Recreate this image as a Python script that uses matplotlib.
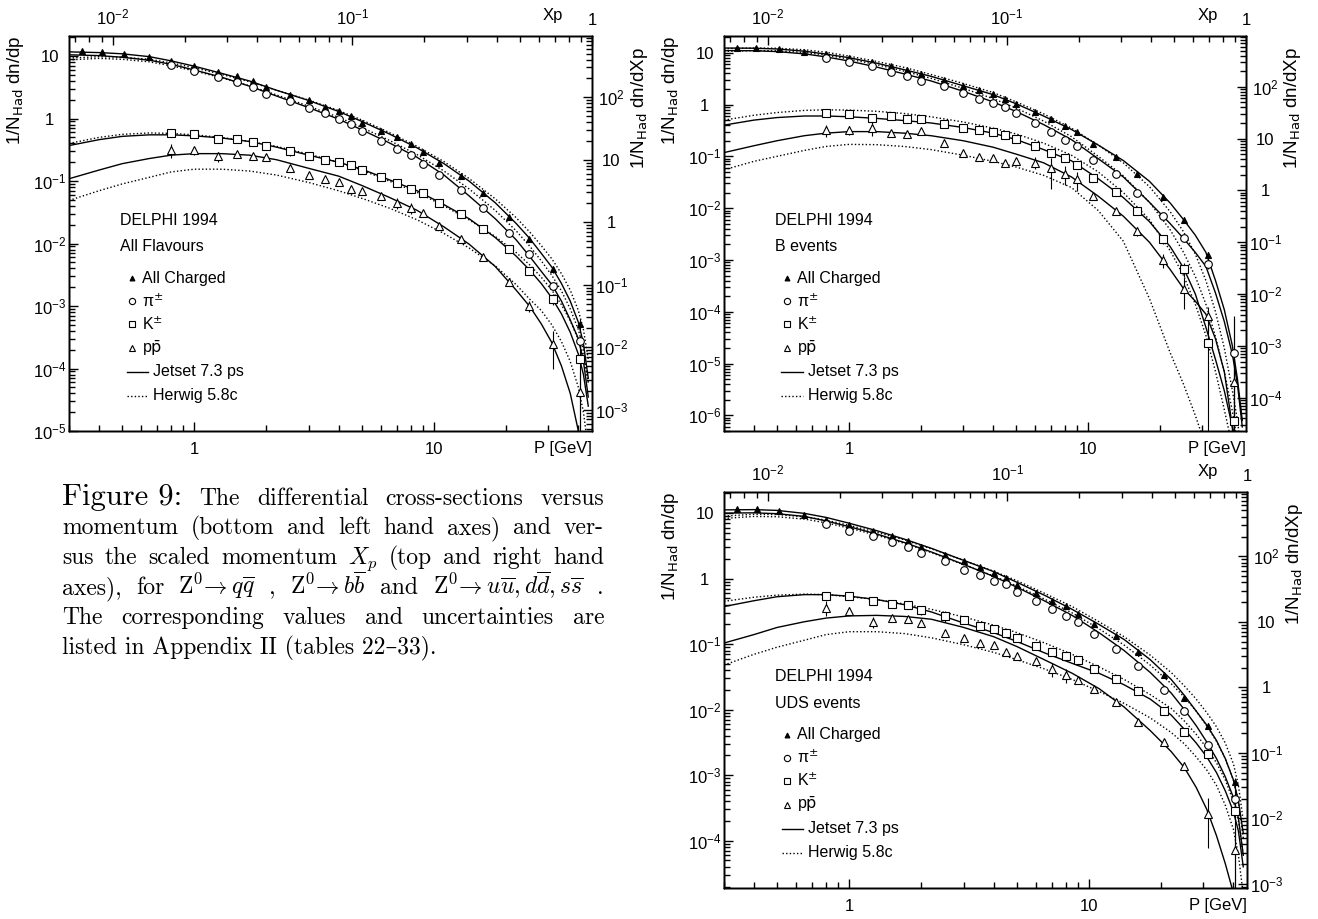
import numpy as np
import matplotlib
matplotlib.use('Agg')
import matplotlib.pyplot as plt
from matplotlib.ticker import FixedLocator, LogLocator, FuncFormatter, NullFormatter

plt.rcParams['font.family'] = ['Liberation Sans', 'DejaVu Sans']
plt.rcParams['mathtext.fontset'] = 'dejavusans'
plt.rcParams['axes.linewidth'] = 1.0

E_BEAM = 45.6  # Xp = p / E_beam

# momentum bins (GeV)
p_ch = [0.34, 0.41, 0.51, 0.65, 0.8, 1.0, 1.25, 1.5, 1.75, 2.0, 2.5, 3.0, 3.5, 4.0, 4.5,
        5.0, 6.0, 7.0, 8.0, 9.0, 10.5, 13.0, 16.0, 20.5, 25.0, 31.5, 40.5]
p_id = [0.8, 1.0, 1.25, 1.5, 1.75, 2.0, 2.5, 3.0, 3.5, 4.0, 4.5, 5.0, 6.0, 7.0, 8.0, 9.0,
        10.5, 13.0, 16.0, 20.5, 25.0, 31.5, 40.5]
p_mc = [0.3, 0.4, 0.5, 0.65, 0.8, 1.0, 1.3, 1.7, 2.2, 3.0, 4.0, 5.0, 6.5, 8.5, 11, 14, 18,
        22, 25, 28, 31, 34, 37, 40, 42, 44]

# ---- All flavours ----
all_ch = [12.0, 11.6, 11.0, 9.75, 8.3, 6.9, 5.5, 4.76, 3.95, 3.2, 2.4, 1.95, 1.56, 1.33, 1.1,
          0.86, 0.64, 0.50, 0.39, 0.29, 0.195, 0.12, 0.064, 0.027, 0.012, 3.9e-3, 5.2e-4]
all_pi = [7.3, 5.7, 4.6, 3.9, 3.2, 2.5, 1.9, 1.5, 1.22, 1.0, 0.82, 0.63, 0.44, 0.33, 0.26,
          0.19, 0.123, 0.072, 0.037, 0.0147, 6.8e-3, 2.1e-3, 2.8e-4]
all_k = [0.58, 0.57, 0.48, 0.47, 0.42, 0.37, 0.30, 0.25, 0.22, 0.20, 0.18, 0.15, 0.116, 0.093,
         0.075, 0.064, 0.044, 0.030, 0.0168, 8.2e-3, 3.6e-3, 1.3e-3, 1.4e-4]
all_p = [0.31, 0.31, 0.25, 0.27, 0.25, 0.24, 0.16, 0.127, 0.107, 0.095, 0.075, 0.069, 0.057,
         0.045, 0.037, 0.031, 0.019, 0.012, 6.1e-3, 2.4e-3, 1.0e-3, 2.5e-4, 4.2e-5]
# relative errors
all_ch_err = [0.03, 0.03, 0.03, 0.03, 0.03, 0.03, 0.03, 0.03, 0.03, 0.03, 0.03, 0.03, 0.03, 0.03,
              0.03, 0.03, 0.03, 0.03, 0.03, 0.03, 0.04, 0.04, 0.05, 0.06, 0.08, 0.12, 0.2]
all_pi_err = [0.05, 0.05, 0.05, 0.05, 0.05, 0.05, 0.05, 0.05, 0.05, 0.05, 0.05, 0.05, 0.05, 0.05,
              0.05, 0.05, 0.05, 0.06, 0.07, 0.08, 0.1, 0.12, 0.2]
all_k_err = [0.1, 0.08, 0.08, 0.08, 0.08, 0.1, 0.15, 0.08, 0.08, 0.08, 0.08, 0.08, 0.08, 0.08,
             0.08, 0.08, 0.08, 0.08, 0.1, 0.1, 0.12, 0.2, 1.4]
all_p_err = [0.25, 0.15, 0.18, 0.1, 0.1, 0.1, 0.1, 0.1, 0.1, 0.1, 0.1, 0.1, 0.1, 0.2, 0.2, 0.12,
             0.1, 0.1, 0.1, 0.12, 0.2, 0.6, 1.1]
all_js_ch = [11.7, 11.4, 10.9, 9.8, 8.4, 6.9, 5.3, 4.0, 2.85, 1.95, 1.3, 0.9, 0.57, 0.34, 0.19,
             0.1, 0.045, 0.021, 0.0122, 7.0e-3, 4.2e-3, 2.3e-3, 1.2e-3, 5.5e-4, 2.5e-4, 7e-5]
all_js_pi = [10.5, 10.2, 9.6, 8.6, 7.4, 6.0, 4.6, 3.3, 2.3, 1.5, 0.98, 0.66, 0.41, 0.24, 0.125,
             0.058, 0.025, 0.0115, 6.3e-3, 3.6e-3, 2.2e-3, 1.2e-3, 6e-4, 3e-4, 1.3e-4, 3.5e-5]
all_js_k = [0.37, 0.46, 0.52, 0.55, 0.55, 0.53, 0.49, 0.43, 0.35, 0.26, 0.2, 0.155, 0.105, 0.07,
            0.042, 0.025, 0.0125, 6.3e-3, 3.8e-3, 2.3e-3, 1.35e-3, 7.5e-4, 3.8e-4, 1.7e-4, 8e-5, 2.5e-5]
all_js_p = [0.109, 0.15, 0.19, 0.23, 0.26, 0.275, 0.275, 0.26, 0.22, 0.16, 0.12, 0.085, 0.055,
            0.034, 0.0185, 0.0098, 4.3e-3, 1.8e-3, 1.0e-3, 5.2e-4, 2.6e-4, 1.1e-4, 4e-5, 1e-5, 3e-6, 5e-7]
all_hw_ch = [9.3, 9.8, 9.6, 8.9, 7.8, 6.5, 5.1, 3.9, 2.85, 1.98, 1.35, 0.95, 0.6, 0.36, 0.205,
             0.11, 0.052, 0.026, 0.0155, 9.3e-3, 5.7e-3, 3.3e-3, 1.8e-3, 8.5e-4, 4.2e-4, 1.4e-4]
all_hw_pi = [8.7, 9.2, 8.9, 8.1, 7.0, 5.8, 4.5, 3.35, 2.4, 1.58, 1.05, 0.72, 0.45, 0.265, 0.145,
             0.075, 0.034, 0.016, 9.2e-3, 5.3e-3, 3.1e-3, 1.75e-3, 9e-4, 4.2e-4, 2e-4, 6e-5]
all_hw_k = [0.4, 0.5, 0.56, 0.59, 0.58, 0.55, 0.5, 0.43, 0.36, 0.27, 0.2, 0.15, 0.1, 0.066, 0.04,
            0.024, 0.013, 7.2e-3, 4.6e-3, 2.9e-3, 1.8e-3, 1.05e-3, 5.8e-4, 2.9e-4, 1.6e-4, 6e-5]
all_hw_p = [0.049, 0.07, 0.09, 0.115, 0.14, 0.155, 0.155, 0.145, 0.125, 0.095, 0.07, 0.053, 0.037,
            0.024, 0.0145, 8.5e-3, 4.4e-3, 2.2e-3, 1.3e-3, 8.5e-4, 5e-4, 2.7e-4, 1.3e-4, 5e-5, 2e-5, 5e-6]

# ---- B events ----
b_ch = [12.5, 12.1, 11.6, 10.4, 9.3, 8.0, 6.5, 5.6, 4.6, 3.9, 3.0, 2.31, 1.9, 1.6, 1.28, 1.02,
        0.71, 0.53, 0.385, 0.29, 0.173, 0.099, 0.046, 0.0163, 6.0e-3, 1.26e-3, 1.7e-5]
b_pi = [7.8, 6.7, 5.5, 4.3, 3.6, 2.9, 2.28, 1.65, 1.28, 1.06, 0.88, 0.68, 0.435, 0.29, 0.21,
        0.155, 0.086, 0.046, 0.0195, 6.9e-3, 2.6e-3, 8.5e-4, 1.6e-5]
b_k = [0.70, 0.65, 0.54, 0.61, 0.52, 0.53, 0.42, 0.35, 0.32, 0.29, 0.26, 0.213, 0.155, 0.115,
       0.093, 0.067, 0.039, 0.0205, 8.9e-3, 2.5e-3, 6.6e-4, 2.5e-5, 7.8e-7]
b_p = [0.32, 0.32, 0.35, 0.28, 0.27, 0.31, 0.18, 0.115, 0.096, 0.092, 0.074, 0.082, 0.076, 0.059,
       0.046, 0.036, 0.0172, 8.9e-3, 3.6e-3, 1.0e-3, 2.8e-4, 8.4e-5, 4.4e-6]
b_ch_err = [0.03, 0.03, 0.03, 0.03, 0.03, 0.03, 0.03, 0.03, 0.03, 0.03, 0.03, 0.03, 0.03, 0.03,
            0.03, 0.03, 0.03, 0.03, 0.03, 0.03, 0.04, 0.05, 0.06, 0.08, 0.1, 0.15, 3.8]
b_pi_err = [0.05, 0.05, 0.05, 0.05, 0.05, 0.05, 0.05, 0.05, 0.05, 0.05, 0.05, 0.05, 0.05, 0.05,
            0.05, 0.05, 0.06, 0.08, 0.1, 0.12, 0.15, 0.2, 3.8]
b_k_err = [0.1, 0.1, 0.1, 0.1, 0.1, 0.1, 0.1, 0.1, 0.1, 0.1, 0.1, 0.1, 0.1, 0.15, 0.1, 0.1, 0.1,
           0.12, 0.15, 0.2, 0.3, 1.0, 1.0]
b_p_err = [0.25, 0.2, 0.3, 0.15, 0.15, 0.15, 0.15, 0.15, 0.15, 0.15, 0.15, 0.15, 0.25, 0.6, 0.4,
           0.4, 0.15, 0.15, 0.2, 0.3, 0.6, 0.5, 1.0]
b_js_ch = [12.3, 12.2, 11.8, 10.7, 9.4, 8.0, 6.3, 4.7, 3.5, 2.3, 1.55, 1.03, 0.6, 0.33, 0.165,
           0.083, 0.033, 0.0125, 6.0e-3, 3.0e-3, 1.4e-3, 4e-4, 1.1e-4, 2.2e-5, 5e-6, 8e-7]
b_js_pi = [11.0, 10.9, 10.5, 9.5, 8.3, 6.9, 5.3, 3.9, 2.85, 1.8, 1.12, 0.73, 0.41, 0.21, 0.09,
           0.04, 0.013, 5.0e-3, 2.6e-3, 1.4e-3, 7.5e-4, 2.3e-4, 6.5e-5, 1.5e-5, 4e-6, 6e-7]
b_js_k = [0.40, 0.5, 0.56, 0.6, 0.6, 0.58, 0.54, 0.49, 0.44, 0.36, 0.28, 0.21, 0.135, 0.082,
          0.037, 0.016, 5.5e-3, 1.8e-3, 7e-4, 2.2e-4, 5e-5, 1.2e-5, 3e-6, 6e-7, 2e-7, 5e-8]
b_js_p = [0.118, 0.16, 0.2, 0.25, 0.28, 0.3, 0.3, 0.28, 0.25, 0.2, 0.15, 0.11, 0.075, 0.04,
          0.017, 7e-3, 2.2e-3, 6.5e-4, 2.8e-4, 1.6e-4, 9e-5, 3e-5, 7e-6, 6e-7, 1e-7, 2e-8]
b_hw_ch = [12.0, 12.3, 12.2, 11.4, 10.2, 8.6, 6.8, 5.2, 3.8, 2.55, 1.7, 1.12, 0.66, 0.35, 0.165,
           0.075, 0.026, 8.5e-3, 3.5e-3, 1.3e-3, 4e-4, 1e-4, 2e-5, 3e-6, 8e-7, 1.5e-7]
b_hw_pi = [10.6, 11.0, 10.9, 10.1, 9.0, 7.5, 5.9, 4.4, 3.2, 2.05, 1.3, 0.85, 0.48, 0.24, 0.1,
           0.042, 0.013, 3.8e-3, 1.4e-3, 4.8e-4, 1.4e-4, 3.3e-5, 7e-6, 1.2e-6, 3e-7, 6e-8]
b_hw_k = [0.5, 0.62, 0.7, 0.77, 0.79, 0.78, 0.74, 0.67, 0.58, 0.46, 0.35, 0.27, 0.18, 0.105, 0.05,
          0.02, 6e-3, 1.5e-3, 5e-4, 1.4e-4, 3.5e-5, 7e-6, 1.3e-6, 2.5e-7, 8e-8, 2e-8]
b_hw_p = [0.055, 0.08, 0.1, 0.13, 0.155, 0.17, 0.168, 0.155, 0.135, 0.105, 0.08, 0.062, 0.043,
          0.025, 9e-3, 2.3e-3, 1.8e-4, 1.6e-5, 4e-6, 1e-6, 2.5e-7, 6e-8, 1.5e-8, 4e-9, 2e-9, 1e-9]

# ---- UDS events ----
u_ch = [11.6, 11.5, 10.6, 9.4, 7.9, 6.5, 5.3, 4.4, 3.8, 3.0, 2.3, 1.83, 1.5, 1.24, 1.02, 0.81,
        0.6, 0.46, 0.38, 0.29, 0.2, 0.133, 0.075, 0.034, 0.015, 5.6e-3, 7.8e-4]
u_pi = [6.8, 5.4, 4.4, 3.6, 3.0, 2.5, 1.83, 1.37, 1.15, 0.91, 0.84, 0.62, 0.45, 0.34, 0.27,
        0.215, 0.145, 0.085, 0.046, 0.02, 9.7e-3, 2.9e-3, 4.3e-4]
u_k = [0.54, 0.54, 0.45, 0.41, 0.39, 0.33, 0.27, 0.23, 0.19, 0.17, 0.15, 0.123, 0.094, 0.077,
       0.065, 0.058, 0.042, 0.029, 0.019, 9.5e-3, 4.6e-3, 2.1e-3, 2.8e-4]
u_p = [0.36, 0.32, 0.22, 0.25, 0.24, 0.21, 0.147, 0.123, 0.106, 0.098, 0.077, 0.067, 0.055,
       0.042, 0.034, 0.028, 0.021, 0.0129, 6.6e-3, 3.2e-3, 1.4e-3, 2.6e-4, 7.3e-5]
u_ch_err = [0.03, 0.03, 0.03, 0.03, 0.03, 0.03, 0.03, 0.03, 0.03, 0.03, 0.03, 0.03, 0.03, 0.03,
            0.03, 0.03, 0.03, 0.03, 0.03, 0.03, 0.04, 0.04, 0.05, 0.06, 0.08, 0.1, 0.15]
u_pi_err = [0.05, 0.05, 0.05, 0.05, 0.05, 0.05, 0.05, 0.05, 0.05, 0.05, 0.05, 0.05, 0.05, 0.05,
            0.05, 0.05, 0.05, 0.06, 0.07, 0.08, 0.1, 0.12, 0.2]
u_k_err = [0.08, 0.08, 0.08, 0.08, 0.08, 0.15, 0.2, 0.08, 0.08, 0.08, 0.08, 0.08, 0.08, 0.08,
           0.08, 0.08, 0.08, 0.08, 0.1, 0.1, 0.12, 0.15, 1.2]
u_p_err = [0.25, 0.15, 0.2, 0.1, 0.1, 0.1, 0.1, 0.1, 0.1, 0.1, 0.1, 0.1, 0.1, 0.25, 0.25, 0.12,
           0.1, 0.1, 0.1, 0.12, 0.15, 0.7, 1.2]
u_js_ch = [11.2, 11.3, 11.0, 9.9, 8.6, 7.0, 5.4, 4.0, 2.9, 1.9, 1.28, 0.88, 0.56, 0.34, 0.2,
           0.118, 0.058, 0.029, 0.0165, 9.5e-3, 5.8e-3, 3.4e-3, 1.8e-3, 8.5e-4, 4e-4, 1.3e-4]
u_js_pi = [10.0, 10.1, 9.8, 8.9, 7.6, 6.2, 4.8, 3.55, 2.55, 1.65, 1.08, 0.74, 0.46, 0.275, 0.15,
           0.08, 0.037, 0.018, 0.01, 5.7e-3, 3.2e-3, 1.8e-3, 9.5e-4, 4.6e-4, 2.2e-4, 6e-5]
u_js_k = [0.375, 0.46, 0.53, 0.57, 0.57, 0.54, 0.48, 0.4, 0.31, 0.21, 0.15, 0.11, 0.074, 0.051,
          0.036, 0.024, 0.0145, 8.3e-3, 5.0e-3, 3.1e-3, 1.9e-3, 1.1e-3, 5.8e-4, 2.8e-4, 1.4e-4, 4e-5]
u_js_p = [0.104, 0.14, 0.18, 0.22, 0.25, 0.27, 0.275, 0.265, 0.24, 0.18, 0.13, 0.092, 0.058,
          0.036, 0.021, 0.011, 4.8e-3, 2.3e-3, 1.3e-3, 6.5e-4, 3e-4, 1.2e-4, 4.5e-5, 1.6e-5, 6e-6, 1.5e-6]
u_hw_ch = [9.0, 9.6, 9.5, 8.8, 7.8, 6.5, 5.1, 3.9, 2.85, 1.9, 1.3, 0.93, 0.6, 0.375, 0.22, 0.13,
           0.068, 0.037, 0.023, 0.0145, 9e-3, 5.5e-3, 3.1e-3, 1.5e-3, 7e-4, 2e-4]
u_hw_pi = [8.3, 8.9, 8.8, 8.1, 7.1, 5.9, 4.6, 3.45, 2.5, 1.63, 1.1, 0.77, 0.49, 0.3, 0.172, 0.097,
           0.048, 0.025, 0.0155, 9.5e-3, 5.6e-3, 3.3e-3, 1.8e-3, 8.5e-4, 4e-4, 1.1e-4]
u_hw_k = [0.45, 0.52, 0.56, 0.58, 0.57, 0.53, 0.48, 0.41, 0.34, 0.26, 0.195, 0.15, 0.105, 0.07,
          0.045, 0.029, 0.017, 0.0105, 6.7e-3, 4.2e-3, 2.6e-3, 1.55e-3, 8.5e-4, 4e-4, 2e-4, 6e-5]
u_hw_p = [0.048, 0.07, 0.09, 0.115, 0.14, 0.155, 0.155, 0.145, 0.125, 0.098, 0.075, 0.058, 0.042,
          0.029, 0.019, 0.0125, 7.5e-3, 4.5e-3, 3.0e-3, 1.9e-3, 1.2e-3, 7e-4, 3.5e-4, 1.5e-4, 6e-5, 1.5e-5]

panels = [
    dict(box=(69, 36, 592, 431), ylim=(1e-5, 21), title='All Flavours',
         data=(all_ch, all_pi, all_k, all_p), err=(all_ch_err, all_pi_err, all_k_err, all_p_err),
         js=(all_js_ch, all_js_pi, all_js_k, all_js_p), hw=(all_hw_ch, all_hw_pi, all_hw_k, all_hw_p)),
    dict(box=(724, 36, 1246, 431), ylim=(5e-7, 21), title='B events',
         data=(b_ch, b_pi, b_k, b_p), err=(b_ch_err, b_pi_err, b_k_err, b_p_err),
         js=(b_js_ch, b_js_pi, b_js_k, b_js_p), hw=(b_hw_ch, b_hw_pi, b_hw_k, b_hw_p)),
    dict(box=(724, 492, 1247, 888), ylim=(1.9e-5, 21), title='UDS events',
         data=(u_ch, u_pi, u_k, u_p), err=(u_ch_err, u_pi_err, u_k_err, u_p_err),
         js=(u_js_ch, u_js_pi, u_js_k, u_js_p), hw=(u_hw_ch, u_hw_pi, u_hw_k, u_hw_p)),
]

W, H = 1318, 919
fig = plt.figure(figsize=(W / 100, H / 100), dpi=100)

# marker styles: all charged, pi, K, p
styles = [dict(marker='^', ms=4.5, mfc='k'),
          dict(marker='o', ms=5.5, mfc='white'),
          dict(marker='s', ms=5.5, mfc='white'),
          dict(marker='^', ms=5.5, mfc='white')]
DOT = (0, (1, 1.6))


def dec_label(v, pos):
    e = int(round(np.log10(v)))
    if e == 0:
        return '1'
    if e == 1:
        return '10'
    return r'$\mathdefault{10^{%d}}$' % e


def log_ticks(axis, lo, hi):
    majors = [10.0 ** e for e in range(-9, 4) if lo * 0.999 <= 10.0 ** e <= hi * 1.001]
    axis.set_major_locator(FixedLocator(majors))
    axis.set_major_formatter(FuncFormatter(dec_label))
    axis.set_minor_locator(LogLocator(base=10, subs=np.arange(2, 10), numticks=200))
    axis.set_minor_formatter(NullFormatter())


tick_kw = dict(which='both', direction='in', labelsize=12, width=1.0)

for pan in panels:
    x0, y0, x1, y1 = pan['box']
    ax = fig.add_axes([x0 / W, 1 - y1 / H, (x1 - x0) / W, (y1 - y0) / H])
    ax.set_xscale('log')
    ax.set_yscale('log')

    for i in range(4):
        ax.plot(p_mc, pan['js'][i], color='k', lw=1.0)
        ax.plot(p_mc, pan['hw'][i], color='k', lw=1.0, ls=DOT)
    for i in range(4):
        xs = p_ch if i == 0 else p_id
        ys = np.array(pan['data'][i])
        ax.errorbar(xs, ys, yerr=np.array(pan['err'][i]) * ys, ls='none', color='k',
                    mec='k', mew=0.8, elinewidth=0.8, capsize=0, zorder=3, **styles[i])

    ax.set_xlim(0.3, E_BEAM)
    ax.set_ylim(*pan['ylim'])
    log_ticks(ax.xaxis, 0.3, E_BEAM)
    log_ticks(ax.yaxis, *pan['ylim'])
    ax.tick_params(axis='x', pad=8, **tick_kw)
    ax.tick_params(axis='y', pad=14, **tick_kw)
    ax.tick_params(which='major', length=6.5)
    ax.tick_params(which='minor', length=4)
    plt.setp(ax.get_yticklabels(), ha='center')

    # top axis in Xp
    top = ax.twiny()
    top.set_xscale('log')
    top.set_xlim(0.3 / E_BEAM, 1.0)
    log_ticks(top.xaxis, 0.3 / E_BEAM, 1.0)
    top.tick_params(axis='x', pad=6, **tick_kw)
    top.tick_params(which='major', length=6.5)
    top.tick_params(which='minor', length=4)

    # right axis in 1/N dn/dXp
    right = ax.twinx()
    right.set_yscale('log')
    lo, hi = pan['ylim']
    right.set_ylim(lo * E_BEAM, hi * E_BEAM)
    log_ticks(right.yaxis, lo * E_BEAM, hi * E_BEAM)
    right.tick_params(axis='y', pad=14, **tick_kw)
    right.tick_params(which='major', length=6.5)
    right.tick_params(which='minor', length=4)
    plt.setp(right.get_yticklabels(), ha='center')

    # axis titles
    ax.text(-0.103, 1.0, r'1/N$_{\mathrm{Had}}$ dn/dp', rotation=90, ha='center', va='top',
            fontsize=13.5, transform=ax.transAxes)
    ax.text(1.09, 0.972, r'1/N$_{\mathrm{Had}}$ dn/dXp', rotation=90, ha='center', va='top',
            fontsize=13.5, transform=ax.transAxes)
    ax.text(1.0, -0.045, 'P [GeV]', ha='right', va='center', fontsize=12, transform=ax.transAxes)
    ax.text(0.926, 1.053, 'Xp', ha='center', va='center', fontsize=12, transform=ax.transAxes)

    # key block
    tr = ax.transAxes
    ax.text(0.098, 0.534, 'DELPHI 1994', fontsize=11.5, va='center', transform=tr)
    ax.text(0.098, 0.466, pan['title'], fontsize=11.5, va='center', transform=tr)
    key_y = [0.387, 0.329, 0.271, 0.21]
    key_txt = ['All Charged', r'π$^{\pm}$', r'K$^{\pm}$', r'p$\bar{\mathrm{p}}$']
    for i in range(4):
        st = dict(styles[i])
        st['ms'] = st['ms'] - 1
        ax.plot([0.12], [key_y[i]], ls='none', color='k', mec='k', mew=0.8, transform=tr,
                clip_on=False, **st)
        ax.text(0.14, key_y[i], key_txt[i], fontsize=11.5, va='center', transform=tr)
    ax.plot([0.110, 0.152], [0.15, 0.15], color='k', lw=1.0, transform=tr)
    ax.plot([0.110, 0.152], [0.089, 0.089], color='k', lw=1.0, ls=DOT, transform=tr)
    ax.text(0.161, 0.15, 'Jetset 7.3 ps', fontsize=11.5, va='center', transform=tr)
    ax.text(0.161, 0.089, 'Herwig 5.8c', fontsize=11.5, va='center', transform=tr)

# ---- caption, justified like the LaTeX original ----
serif = ['cmr10', 'DejaVu Serif']
renderer = fig.canvas.get_renderer()
cap_lines = [
    [('Figure 9:', 22), 'The', 'differential', 'cross-sections', 'versus'],
    ['momentum', '(bottom', 'and', 'left', 'hand', 'axes)', 'and', 'ver-'],
    ['sus', 'the', 'scaled', 'momentum', r'$X_p$', '(top', 'and', 'right', 'hand'],
    ['axes),', 'for', r'$\mathrm{Z}^0\!\rightarrow q\overline{q}$', ',',
     r'$\mathrm{Z}^0\!\rightarrow b\overline{b}$', 'and',
     r'$\mathrm{Z}^0\!\rightarrow u\overline{u}, d\overline{d}, s\overline{s}$', '.'],
    ['The', 'corresponding', 'values', 'and', 'uncertainties', 'are'],
]
baselines = [505, 534, 564, 594, 624]
xl, xr = 62 / W, 604 / W
for toks, yb in zip(cap_lines, baselines):
    objs = []
    for tok in toks:
        s, fs = tok if isinstance(tok, tuple) else (tok, 17)
        objs.append(fig.text(0, 1 - yb / H, s, fontsize=fs, family=serif,
                             math_fontfamily='cm', va='baseline'))
    widths = [o.get_window_extent(renderer).width / W for o in objs]
    gap = (xr - xl - sum(widths)) / (len(objs) - 1)
    x = xl
    for o, w in zip(objs, widths):
        o.set_x(x)
        x += w + gap
fig.text(xl, 1 - 654 / H, 'listed in Appendix II (tables 22\u201333).', fontsize=17,
         family=serif, va='baseline')

fig.savefig('out.png', dpi=100)
